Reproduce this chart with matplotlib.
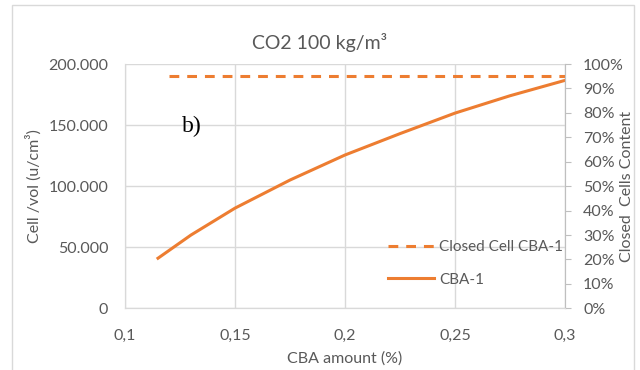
import matplotlib
matplotlib.use("Agg")
import matplotlib.pyplot as plt
from matplotlib.lines import Line2D
from matplotlib.patches import Rectangle
from matplotlib.ticker import FuncFormatter, MultipleLocator

plt.rcParams['font.family'] = ['Lato', 'DejaVu Sans']

# data
cba_amount = [0.115, 0.13, 0.15, 0.175, 0.2, 0.225, 0.25, 0.275, 0.3]
cells_per_vol = [41000, 60000, 82000, 105000, 125500, 143000, 159800, 174000, 186600]
closed_x = [0.12, 0.3]
closed_content = [0.95, 0.95]

orange = '#ED7D31'
grey_txt = '#595959'
grid_c = '#D9D9D9'

fig = plt.figure(figsize=(6.4, 3.7), dpi=100)
fig.patches.append(Rectangle((12 / 640, -0.01), 622 / 640, 1 - 5 / 370 + 0.01,
                             transform=fig.transFigure, fill=False,
                             edgecolor=grid_c, linewidth=1))
ax = fig.add_axes([125 / 640, 1 - 308.3 / 370, 440 / 640, 244.3 / 370])
ax2 = ax.twinx()

ax.plot(cba_amount, cells_per_vol, color=orange, linewidth=2.2)
ax2.plot(closed_x, closed_content, color=orange, linewidth=2.2, linestyle=(0, (3.2, 2.6)))

ax.set_xlim(0.1, 0.3)
ax.set_ylim(0, 200000)
ax2.set_ylim(0, 1)
ax.xaxis.set_major_locator(MultipleLocator(0.05))
ax.yaxis.set_major_locator(MultipleLocator(50000))
ax2.yaxis.set_major_locator(MultipleLocator(0.1))

ax.xaxis.set_major_formatter(FuncFormatter(lambda v, p: ('%g' % round(v, 2)).replace('.', ',')))
ax.yaxis.set_major_formatter(FuncFormatter(lambda v, p: '{:,.0f}'.format(v).replace(',', '.')))
ax2.yaxis.set_major_formatter(FuncFormatter(lambda v, p: '%d%%' % round(v * 100)))

ax.grid(True, color=grid_c, linewidth=1)
ax.set_axisbelow(True)
for a in (ax, ax2):
    for s in a.spines.values():
        s.set_color(grid_c)
    a.spines['top'].set_visible(False)
ax2.spines['right'].set_color('#BFBFBF')
ax.tick_params(axis='y', length=0, labelsize=11.5, colors=grey_txt, pad=12)
ax.tick_params(axis='x', length=0, labelsize=11.5, colors=grey_txt, pad=15)
ax2.tick_params(axis='y', length=4, color='#BFBFBF', labelsize=11.5, labelcolor=grey_txt, pad=9)

ax.set_xlabel('CBA amount (%)', fontsize=11.5, color=grey_txt, va='center')
ax.xaxis.set_label_coords(0.5, -(359 - 308.3) / 244.3)
ax.set_ylabel('Cell /vol (u/cm³)', fontsize=11.5, color=grey_txt, va='center')
ax.yaxis.set_label_coords(-(125 - 34) / 440, 0.5)
ax2.set_ylabel('Closed  Cells Content', fontsize=11.5, color=grey_txt, va='center')
ax2.yaxis.set_label_coords(1 + (627 - 565) / 440, 0.5)
fig.suptitle('CO2 100 kg/m³', fontsize=14, color=grey_txt, y=1 - 42 / 370, va='center')

ax.text(0.1303, 148600, 'b)', fontsize=17, family='Liberation Serif',
        ha='center', va='center', color='black')

handles = [Line2D([], [], color=orange, linewidth=2.2, linestyle=(0, (3.2, 2.6))),
           Line2D([], [], color=orange, linewidth=2.2)]
ax2.legend(handles, ['Closed Cell CBA-1', 'CBA-1'], loc='upper left',
           bbox_to_anchor=(0.597, 0.278), frameon=False, fontsize=11,
           labelcolor=grey_txt, handlelength=3.0, handletextpad=0.35,
           labelspacing=1.2, borderpad=0, borderaxespad=0)

fig.savefig('out.png', dpi=100)
